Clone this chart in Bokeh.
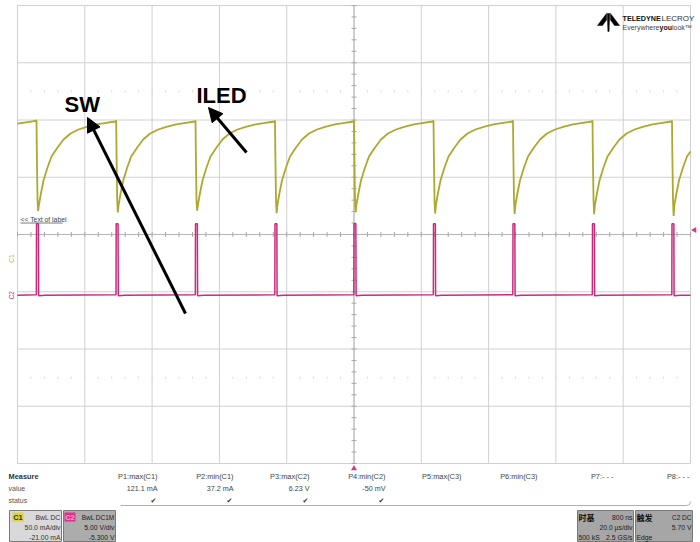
import numpy as np
from bokeh.plotting import figure
from bokeh.models import Range1d, Arrow, NormalHead
from bokeh.core.properties import value
from bokeh.embed import file_html
from bokeh.resources import INLINE

# ---------------- data ----------------
# falling edges of ILED / SW pulses (us), trigger at 0
edge_times_us = [-94.35, -70.67, -47.10, -23.48, 0.00, 23.63, 47.25, 70.88, 94.50]

# ILED (C1, mA): plateau before first edge
iled_lead_t = [-100.0, -97.5, -95.5]
iled_lead_ma = [117.8, 119.0, 119.8]
# ILED shape after each edge (offset us, mA)
iled_cycle_dt = [0.00, 0.09, 0.30, 0.48, 0.74, 1.31, 2.08, 3.27, 4.46, 6.24, 8.02, 10.10, 12.48, 15.16, 17.83, 20.21, 23.40]
iled_cycle_ma = [120.6, 94.4, 50.7, 39.3, 47.2, 56.8, 68.2, 79.5, 89.1, 97.0, 104.0, 109.2, 112.7, 115.3, 117.1, 118.2, 119.7]
iled_cycle_min_ma = [41.5, 40.2, 41.8, 39.6, 40.4, 39.3, 39.0, 38.8, 37.2]
iled_tail_t = [100.0]
iled_tail_ma = [93.5]

# SW (C2, V): pulse shape around each edge (offset us, V)
sw_pulse_dt = [-0.05, 0.00, 0.55, 0.62, 2.50]
sw_pulse_v = [0.03, 6.23, 6.23, -0.05, 0.00]
sw_lead_t = [-100.0]
sw_lead_v = [0.0]
sw_tail_t = [100.0]
sw_tail_v = [0.0]

# channel settings
c1_scale, c1_offset = 50.0, -21.0      # mA/div, mA
c2_scale, c2_offset = 5.0, -5.3        # V/div, V
time_div = 20.0                        # us/div
trig_level_v = 5.70

# measurement table
meas_names = ["P1:max(C1)", "P2:min(C1)", "P3:max(C2)", "P4:min(C2)",
              "P5:max(C3)", "P6:min(C3)", "P7:- - -", "P8:- - -"]
meas_values = ["121.1 mA", "37.2 mA", "6.23 V", "-50 mV", "", "", "", ""]
meas_status = ["\u2714", "\u2714", "\u2714", "\u2714", "", "", "", ""]

# ---------------- layout constants (pixels) ----------------
PL, PR, PT, PB = 0, 700, 0, 542          # canvas
GL, GR, GT, GB = 17, 690, 5, 463         # graticule
GCY = (GT + GB) / 2
dxp = (GR - GL) / 10.0
dyp = (GB - GT) / 8.0

W, H = PR - PL, PB - PT
p = figure(width=W, height=H, output_backend="svg", toolbar_location=None,
           x_range=Range1d(PL, PR), y_range=Range1d(PB, PT),
           x_axis_type=None, y_axis_type=None, min_border=0)
p.outline_line_color = None
p.background_fill_color = "white"
p.border_fill_color = "white"

# extra scales for the traces
t_lo = -5 * time_div - (GL - PL) / dxp * time_div
t_hi = 5 * time_div + (PR - GR) / dxp * time_div
div_top = (GCY - PT) / dyp
div_bot = (GCY - PB) / dyp
p.extra_x_ranges = {"t": Range1d(t_lo, t_hi)}
p.extra_y_ranges = {
    "mA": Range1d(div_bot * c1_scale - c1_offset, div_top * c1_scale - c1_offset),
    "V": Range1d(div_bot * c2_scale - c2_offset, div_top * c2_scale - c2_offset),
}

SANS = "'Liberation Sans', Arial, sans-serif"
CJK = "'Noto Sans CJK SC', sans-serif"


def txt(x, y, s, size, color="#333333", align="left", bold=False, font=SANS,
        baseline="middle", angle=0.0, **kw):
    p.text(x=[x], y=[y], text=[s], text_font=value(font), text_font_size=f"{size}px",
           text_font_style="bold" if bold else "normal", text_color=color,
           text_align=align, text_baseline=baseline, angle=angle, **kw)


# ---------------- graticule ----------------
vx = [GL + i * dxp for i in range(11)]
hy = [GT + j * dyp for j in range(9)]
p.multi_line(xs=[[x, x] for x in vx], ys=[[GT, GB] for _ in vx], line_color="#D0D0D0", line_width=1)
p.multi_line(xs=[[GL, GR] for _ in hy], ys=[[y, y] for y in hy], line_color="#D0D0D0", line_width=1)
# centre lines with ticks
cx = GL + 5 * dxp
p.segment(x0=[GL], y0=[GCY], x1=[GR], y1=[GCY], line_color="#B5B5B5", line_width=1)
p.segment(x0=[cx], y0=[GT], x1=[cx], y1=[GB], line_color="#B5B5B5", line_width=1)
tx = [GL + k * dxp / 5 for k in range(51)]
p.segment(x0=tx, y0=[GCY - 2.5] * len(tx), x1=tx, y1=[GCY + 2.5] * len(tx), line_color="#A8A8A8", line_width=1)
ty = [GT + k * dyp / 5 for k in range(41)]
p.segment(x0=[cx - 2.5] * len(ty), y0=ty, x1=[cx + 2.5] * len(ty), y1=ty, line_color="#A8A8A8", line_width=1)
# dotted minor rows at +/-2.5 div
for yy in (GCY - 2.5 * dyp, GCY + 2.5 * dyp):
    p.segment(x0=tx, y0=[yy - 1] * len(tx), x1=tx, y1=[yy + 1] * len(tx), line_color="#D8D8D8", line_width=1)

# ---------------- traces ----------------
it, iv = list(iled_lead_t), list(iled_lead_ma)
cmin = min(iled_cycle_ma)
for k, e in enumerate(edge_times_us):
    for dt, v in zip(iled_cycle_dt, iled_cycle_ma):
        if e + dt >= 100.0:
            break
        it.append(e + dt)
        iv.append(iled_cycle_min_ma[k] if v == cmin else v)
it += iled_tail_t
iv += iled_tail_ma

st, sv = list(sw_lead_t), list(sw_lead_v)
for e in edge_times_us:
    for dt, v in zip(sw_pulse_dt, sw_pulse_v):
        st.append(e + dt)
        sv.append(v)
st += sw_tail_t
sv += sw_tail_v

p.line(st, sv, x_range_name="t", y_range_name="V", line_color="#C92A7E", line_width=1.5)
p.line(it, iv, x_range_name="t", y_range_name="mA", line_color="#ADA82E", line_width=1.8)

# channel markers and trigger markers
txt(11, 0.0, "C1", 6.5, color="#B8B040", align="center", angle=np.pi / 2, y_range_name="mA")
txt(11, 0.0, "C2", 6.5, color="#CF2277", align="center", angle=np.pi / 2, y_range_name="V")
p.scatter(x=[GR + 4], y=[trig_level_v], y_range_name="V", marker="triangle", angle=np.pi / 2,
          size=6, fill_color="#D63A8A", line_color=None)
p.scatter(x=[0.0], y=[GB + 5], x_range_name="t", marker="triangle", size=6,
          fill_color="#D63A8A", line_color=None)

# label text
txt(20, 218.5, "<< Text of label", 6.8, color="#444444")
p.segment(x0=[20], y0=[222.5], x1=[62], y1=[222.5], line_color="#555555", line_width=0.8)

# annotations
txt(64, 104, "SW", 22, color="black", bold=True, baseline="alphabetic")
txt(196, 95, "ILED", 22, color="black", bold=True, baseline="alphabetic")
p.add_layout(Arrow(end=NormalHead(size=14, fill_color="black", line_color="black"),
                   x_start=185, y_start=313, x_end=87, y_end=117, line_width=3, line_color="black"))
p.add_layout(Arrow(end=NormalHead(size=14, fill_color="black", line_color="black"),
                   x_start=246, y_start=152, x_end=208, y_end=107, line_width=3, line_color="black"))

# logo
p.patches(xs=[[597, 606, 606, 602], [619, 610, 610, 614], [606.8, 609.2, 608.6, 607.4]],
          ys=[[25, 13, 19.5, 25], [25, 13, 19.5, 25], [13, 13, 31, 31]],
          fill_color="black", line_color="black", line_width=0.5)
txt(622, 18, "TELEDYNE", 7.2, color="#111111", bold=True)
txt(661, 18, "LECROY", 8, color="#333333")
txt(622, 26.5, "Everywhere", 7, color="#444444")
txt(659, 26.5, "you", 7, color="#111111", bold=True)
txt(671.5, 26.5, "look\u2122", 7, color="#444444")

# ---------------- measure table ----------------
R1, R2, R3 = 476, 488, 500
txt(8, R1, "Measure", 7.4, color="#333333", bold=True)
txt(8, R2, "value", 7, color="#555555")
txt(8, R3, "status", 7, color="#555555")
for i, (nm, vl, stt) in enumerate(zip(meas_names, meas_values, meas_status)):
    rx = 157 + i * 76
    txt(rx, R1, nm, 7.4, color="#444444", align="right")
    if vl:
        txt(rx, R2, vl, 7.2, color="#444444", align="right")
    if stt:
        txt(rx - 4, R3, stt, 7, color="#333333", align="center", font="'DejaVu Sans', sans-serif")
p.line([120, 686], [505, 505], line_color="#B0B0B0", line_width=1)
p.line([686, 689, 690], [505, 504, 501], line_color="#B0B0B0", line_width=1)

# ---------------- channel / timebase boxes ----------------
BT, BB = 510, 541
p.quad(left=[9, 63, 577, 635], right=[61, 115, 633, 692], top=[BT] * 4, bottom=[BB] * 4,
       fill_color=["#D9D9D9", "#ACACAC", "#A6A6A6", "#A6A6A6"], line_color="#7A7A7A", line_width=1)
p.quad(left=[12, 64], right=[23, 75], top=[512, 512], bottom=[521, 521],
       fill_color=["#DCD43A", "#E0308C"], line_color=None)
txt(17.5, 516.5, "C1", 7.5, color="#333333", bold=True, align="center")
txt(69.5, 516.5, "C2", 7.5, color="#F7A8D0", bold=True, align="center")
Y1, Y2, Y3 = 517, 527, 537
txt(60, Y1, "BwL DC", 6.8, color="#333333", align="right")
txt(60, Y2, "50.0 mA/div", 6.8, color="#333333", align="right")
txt(60, Y3, "-21.00 mA", 6.8, color="#333333", align="right")
txt(114, Y1, "BwL DC1M", 6.5, color="#222222", align="right")
txt(114, Y2, "5.00 V/div", 6.8, color="#222222", align="right")
txt(114, Y3, "-5.300 V", 6.8, color="#222222", align="right")
txt(578, Y1, "时基", 8, color="#111111", bold=True, font=CJK)
txt(632, Y1, "800 ns", 6.8, color="#222222", align="right")
txt(632, Y2, "20.0 \u00b5s/div", 6.8, color="#222222", align="right")
txt(578, Y3, "500 kS", 6.8, color="#222222")
txt(632, Y3, "2.5 GS/s", 6.8, color="#222222", align="right")
txt(636, Y1, "触发", 8, color="#111111", bold=True, font=CJK)
txt(691, Y1, "C2 DC", 6.5, color="#222222", align="right")
txt(691, Y2, "5.70 V", 6.8, color="#222222", align="right")
txt(636, Y3, "Edge", 6.8, color="#222222")

open("out.html", "w").write(file_html(p, INLINE))
